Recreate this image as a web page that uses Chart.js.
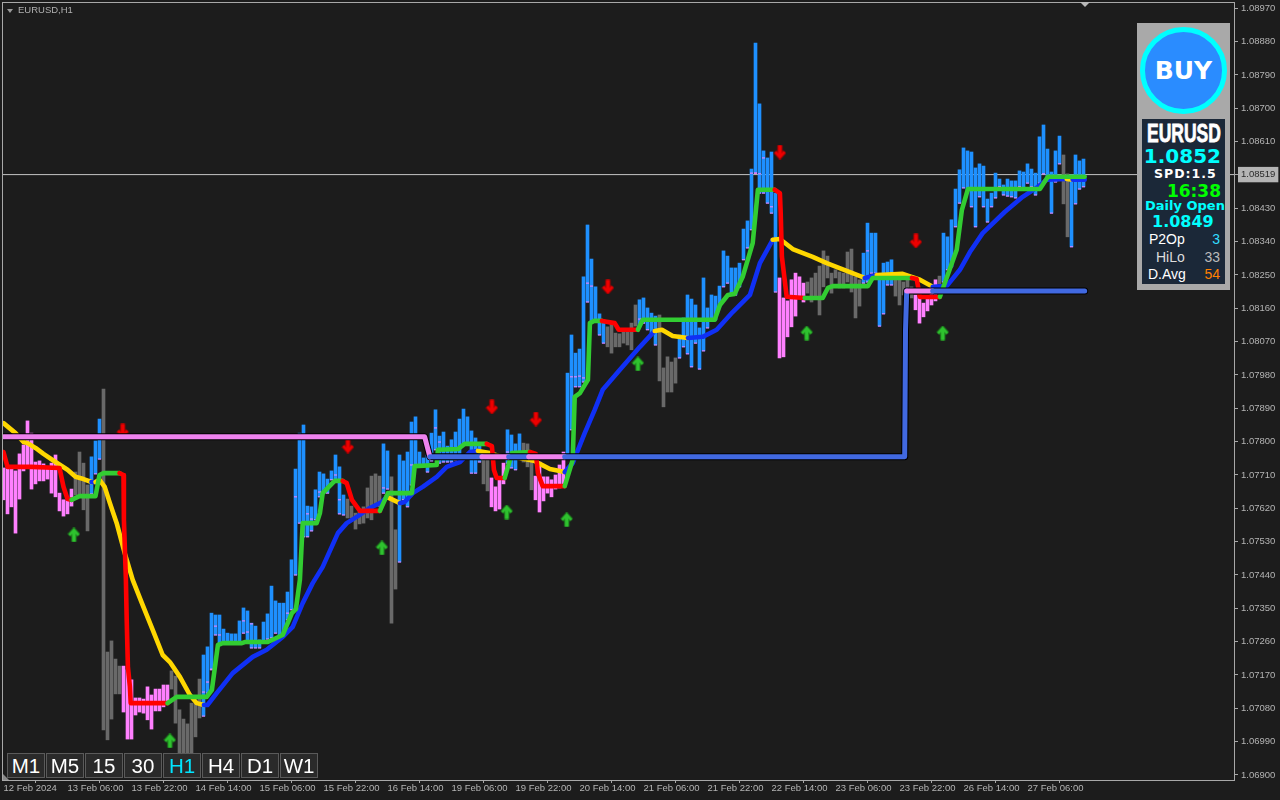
<!DOCTYPE html>
<html>
<head>
<meta charset="utf-8">
<title>EURUSD,H1</title>
<script src="https://cdn.jsdelivr.net/npm/chart.js@4.4.1/dist/chart.umd.js"></script>
<style>
    html, body { margin: 0; padding: 0; background: #1c1c1c; overflow: hidden; }
    #wrap { position: relative; width: 1280px; height: 800px; font-family: "Liberation Sans", Arial, sans-serif; }
    #wrap canvas { position: absolute; left: 0; top: 0; }
    .abs { position: absolute; white-space: nowrap; }
    #title { left: 18px; top: 4px; font-size: 9.5px; line-height: 12px; color: #b0b0b0; }
    .tri { position: absolute; width: 0; height: 0; }
    #panel { left: 1137px; top: 23px; width: 93px; height: 267px; background: #a9a9a9; }
    #circle { left: 1140px; top: 27px; width: 77px; height: 77px; border: 5px solid #00ffff; border-radius: 50%; background: #2a8cff;
              color: #fff; font-family: "DejaVu Sans", sans-serif; font-weight: bold; font-size: 25px; line-height: 77px; text-align: center; }
    #info { left: 1142px; top: 119px; width: 83px; height: 165px; background: #1b2838; }
    .bold { font-family: "DejaVu Sans", sans-serif; font-weight: bold; }
    .right { text-align: right; }
    .btn { position: absolute; top: 753px; width: 36px; height: 23px; background: #2a2a2a; border: 1px solid #5a5a5a; box-sizing: content-box;
           color: #fff; font-size: 20.5px; line-height: 23px; text-align: center; }
</style>
</head>
<body>
<div id="wrap">
    <canvas id="chart" width="1280" height="800"></canvas>

    <div class="tri" style="left:7px;top:9px;border-left:3px solid transparent;border-right:3px solid transparent;border-top:4px solid #9a9a9a;"></div>
    <div id="title" class="abs">EURUSD,H1</div>
    <div class="tri" style="left:1080px;top:2px;border-left:5px solid transparent;border-right:5px solid transparent;border-top:5px solid #b8b8b8;"></div>
    <div class="tri" style="left:3px;top:774px;border-left:0 solid transparent;border-right:6px solid transparent;border-bottom:6px solid #8a8a8a;"></div>

    <div id="panel" class="abs"></div>
    <div id="circle" class="abs">BUY</div>
    <div id="info" class="abs"></div>
    <div class="abs" style="right:59px;top:120px;color:#fff;font:bold 26.5px/27px 'Liberation Sans',sans-serif;-webkit-text-stroke:0.8px #fff;transform:scaleX(0.66);transform-origin:right center;">EURUSD</div>
    <div class="abs bold right" style="left:1142px;top:144px;width:79px;color:#00ffff;font-size:20px;line-height:24px;">1.0852</div>
    <div class="abs bold" style="left:1154px;top:166px;color:#fff;font-size:12.5px;line-height:16px;letter-spacing:1px;">SPD:1.5</div>
    <div class="abs bold right" style="left:1142px;top:181px;width:79px;color:#00ff00;font-size:17px;line-height:20px;">16:38</div>
    <div class="abs bold" style="left:1145px;top:198px;color:#00ffff;font-size:13px;line-height:16px;">Daily Open</div>
    <div class="abs bold" style="left:1152px;top:212px;color:#00ffff;font-size:16px;line-height:20px;">1.0849</div>
    <div class="abs" style="left:1149px;top:231px;color:#fff;font-size:14px;line-height:17px;">P2Op</div>
    <div class="abs right" style="left:1190px;top:231px;width:30px;color:#33ddff;font-size:14px;line-height:17px;">3</div>
    <div class="abs" style="left:1156px;top:249px;color:#ddd;font-size:14px;line-height:17px;">HiLo</div>
    <div class="abs right" style="left:1190px;top:249px;width:30px;color:#bbb;font-size:14px;line-height:17px;">33</div>
    <div class="abs" style="left:1148px;top:266px;color:#fff;font-size:14px;line-height:17px;">D.Avg</div>
    <div class="abs right" style="left:1190px;top:266px;width:30px;color:#ff8000;font-size:14px;line-height:17px;">54</div>

    <div id="buttons"></div>
</div>

<script>
// Bars, one per hour, index 0 = 12 Feb 2024 00:00
const barHigh = [
    1.07729,1.07729,1.07729,1.07721,1.07767,1.07791,1.07856,1.07823,1.07745,1.07748,1.07740,1.07729,1.07742,1.07764,1.07661,1.07643,
    1.07643,1.07672,1.07718,1.07772,1.07742,1.07683,1.07759,1.07802,1.07861,1.07942,1.07232,1.07262,1.07213,1.07194,1.07194,1.07184,
    1.07157,1.07108,1.07108,1.07105,1.07138,1.07116,1.07132,1.07132,1.07143,1.07143,1.07181,1.07167,1.07076,1.07051,1.07038,1.07094,
    1.07094,1.07159,1.07224,1.07246,1.07337,1.07332,1.07332,1.07294,1.07283,1.07281,1.07281,1.07316,1.07351,1.07343,1.07310,1.07302,
    1.07265,1.07313,1.07335,1.07410,1.07370,1.07364,1.07364,1.07394,1.07481,1.07726,1.07823,1.07845,1.07626,1.07624,1.07670,1.07718,
    1.07713,1.07699,1.07721,1.07764,1.07732,1.07656,1.07645,1.07626,1.07607,1.07610,1.07624,1.07675,1.07707,1.07713,1.07707,1.07794,
    1.07775,1.07705,1.07562,1.07764,1.07748,1.07772,1.07853,1.07867,1.07772,1.07756,1.07764,1.07823,1.07886,1.07815,1.07826,1.07788,
    1.07805,1.07826,1.07861,1.07888,1.07867,1.07829,1.07810,1.07791,1.07769,1.07764,1.07702,1.07678,1.07702,1.07742,1.07832,1.07818,
    1.07794,1.07821,1.07796,1.07794,1.07772,1.07707,1.07745,1.07705,1.07705,1.07697,1.07710,1.07737,1.07772,1.07985,1.08088,1.08039,
    1.08050,1.08245,1.08385,1.08293,1.08218,1.08145,1.08129,1.08110,1.08120,1.08093,1.08091,1.08099,1.08099,1.08120,1.08169,1.08183,
    1.08188,1.08161,1.08147,1.08139,1.08142,1.07999,1.08029,1.08015,1.08026,1.08088,1.08134,1.08196,1.08185,1.08169,1.08107,1.08242,
    1.08161,1.08196,1.08193,1.08220,1.08315,1.08301,1.08269,1.08269,1.08282,1.08374,1.08396,1.08536,1.08876,1.08712,1.08585,1.08566,
    1.08582,1.08471,1.08242,1.08188,1.08180,1.08237,1.08255,1.08245,1.08228,1.08231,1.08242,1.08255,1.08274,1.08315,1.08301,1.08255,
    1.08264,1.08258,1.08255,1.08312,1.08320,1.08245,1.08237,1.08309,1.08390,1.08363,1.08363,1.08242,1.08282,1.08285,1.08291,1.08242,
    1.08242,1.08231,1.08237,1.08218,1.08196,1.08191,1.08174,1.08188,1.08201,1.08237,1.08247,1.08363,1.08353,1.08399,1.08482,1.08534,
    1.08593,1.08585,1.08582,1.08539,1.08550,1.08544,1.08455,1.08471,1.08525,1.08509,1.08493,1.08509,1.08504,1.08504,1.08531,1.08528,
    1.08550,1.08536,1.08525,1.08623,1.08655,1.08590,1.08528,1.08585,1.08625,1.08574,1.08523,1.08520,1.08574,1.08558,1.08563
];
const barLow = [
    1.07643,1.07605,1.07624,1.07553,1.07645,1.07721,1.07732,1.07672,1.07686,1.07694,1.07694,1.07699,1.07661,1.07651,1.07613,1.07599,
    1.07605,1.07626,1.07656,1.07656,1.07616,1.07559,1.07659,1.07713,1.07753,1.07022,1.06995,1.07051,1.07119,1.07119,1.07070,1.06997,
    1.06997,1.07062,1.07070,1.07067,1.07049,1.07024,1.07073,1.07073,1.07084,1.07094,1.07132,1.07040,1.06954,1.06954,1.06949,1.06959,
    1.07003,1.07054,1.07059,1.07121,1.07184,1.07278,1.07256,1.07256,1.07256,1.07256,1.07256,1.07256,1.07283,1.07256,1.07243,1.07243,
    1.07243,1.07256,1.07267,1.07270,1.07283,1.07273,1.07273,1.07319,1.07346,1.07440,1.07580,1.07543,1.07543,1.07559,1.07589,1.07651,
    1.07661,1.07661,1.07697,1.07697,1.07605,1.07602,1.07594,1.07594,1.07564,1.07578,1.07580,1.07594,1.07589,1.07624,1.07624,1.07661,
    1.07672,1.07310,1.07402,1.07475,1.07643,1.07624,1.07683,1.07737,1.07737,1.07737,1.07718,1.07748,1.07778,1.07742,1.07745,1.07745,
    1.07745,1.07751,1.07764,1.07791,1.07791,1.07715,1.07715,1.07745,1.07686,1.07667,1.07624,1.07613,1.07618,1.07686,1.07742,1.07729,
    1.07724,1.07764,1.07745,1.07732,1.07670,1.07643,1.07610,1.07640,1.07661,1.07651,1.07672,1.07675,1.07683,1.07759,1.07832,1.07948,
    1.07948,1.07961,1.08177,1.08123,1.08123,1.08088,1.08066,1.08056,1.08039,1.08056,1.08056,1.08066,1.08061,1.08048,1.08112,1.08110,
    1.08120,1.08102,1.08093,1.08061,1.07964,1.07894,1.07934,1.07934,1.07958,1.08026,1.08056,1.08037,1.08002,1.08066,1.07996,1.08045,
    1.08107,1.08129,1.08129,1.08164,1.08218,1.08228,1.08201,1.08196,1.08218,1.08291,1.08323,1.08372,1.08525,1.08471,1.08471,1.08444,
    1.08417,1.08204,1.08026,1.08029,1.08083,1.08110,1.08139,1.08191,1.08177,1.08201,1.08177,1.08188,1.08142,1.08218,1.08242,1.08201,
    1.08242,1.08215,1.08215,1.08231,1.08204,1.08134,1.08166,1.08228,1.08231,1.08255,1.08255,1.08112,1.08145,1.08223,1.08223,1.08193,
    1.08169,1.08196,1.08215,1.08188,1.08156,1.08120,1.08137,1.08153,1.08169,1.08180,1.08226,1.08231,1.08264,1.08272,1.08380,1.08444,
    1.08485,1.08480,1.08434,1.08380,1.08461,1.08434,1.08393,1.08434,1.08458,1.08488,1.08466,1.08463,1.08461,1.08458,1.08488,1.08485,
    1.08498,1.08488,1.08466,1.08498,1.08523,1.08507,1.08417,1.08501,1.08550,1.08442,1.08353,1.08326,1.08442,1.08482,1.08488
];
// Bar colour state as runs: last bar index of each run and its state
const trendRunEnd = [17,21,24,29,41,49,85,94,96,98,119,121,125,129,132,140,150,158,163,168,193,200,214,222,227,233,234,264,266,270];
const trendRunState = ['down','flat','up','flat','down','flat','up','flat','up','flat','up','flat','down','up','flat','down','up','flat','up','flat','up','down','flat','up','flat','down','flat','up','flat','up'];

// Small pink marks inside some of the up bars
const markBars = [50,51,52,53,54,60,61,62,71,73,76,77,79,83,84,95,102,108,109,126,142,143,144,145,146,147,159,187,188,189,190,192,216];
const markVals = [1.07124,1.07151,1.07186,1.07302,1.07278,1.07316,1.07286,1.07308,1.07337,1.07651,1.07605,1.07591,1.07664,1.07710,1.07643,1.07675,1.07737,1.07837,1.07799,1.07772,1.07975,1.07975,1.07977,1.07972,1.08228,1.08220,1.08131,1.08525,1.08525,1.08523,1.08566,1.08434,1.08315];

// Slow average: position in bars, price, colour of the stretch that starts there
const slowBars = [0,3,5,6,8,10,13,16,18,20,22,23,24,25.3,26.6,28.3,30.3,32.3,34.6,37.3,39.8,41.6,44.1,46.6,48.3,50.1,51,53.3,57.3,62.3,65.8,69.8,72.3,74.8,77.3,79.8,83.6,85.8,88.6,91.6,94.6,95.8,99.1,100.3,102.3,104.8,108.3,110.8,114.1,116.6,118.6,121.6,124.1,129.1,132.8,134.1,136.6,140.3,142.3,145.3,147.8,149.8,154.1,159.1,162.8,164.6,167.3,171.1,174.8,178.3,182.3,186.6,189.1,192.3,194.1,197.3,202.3,205.8,210.8,215.3,218.3,224.8,229.1,232.3,235.8,239.1,241.6,244.8,250.3,254.8,258.6,260.8,265.8,267.3,270.3];
const slowVals = [1.07850,1.07823,1.07799,1.07796,1.07783,1.07767,1.07745,1.07724,1.07705,1.07699,1.07691,1.07691,1.07697,1.07678,1.07634,1.07580,1.07499,1.07427,1.07364,1.07292,1.07224,1.07205,1.07165,1.07116,1.07094,1.07089,1.07089,1.07121,1.07175,1.07219,1.07238,1.07273,1.07300,1.07364,1.07418,1.07462,1.07553,1.07580,1.07599,1.07621,1.07637,1.07651,1.07634,1.07637,1.07661,1.07678,1.07705,1.07732,1.07745,1.07772,1.07775,1.07769,1.07761,1.07756,1.07748,1.07740,1.07726,1.07718,1.07742,1.07823,1.07886,1.07940,1.07994,1.08056,1.08099,1.08102,1.08085,1.08080,1.08083,1.08102,1.08150,1.08196,1.08282,1.08345,1.08347,1.08320,1.08299,1.08282,1.08261,1.08242,1.08250,1.08253,1.08237,1.08218,1.08220,1.08264,1.08312,1.08363,1.08420,1.08461,1.08488,1.08507,1.08509,1.08507,1.08507];
const slowTrend = ['y','y','y','y','y','y','y','y','y','y','b','y','y','y','y','y','y','y','y','y','y','y','y','y','y','b','b','b','b','b','b','b','b','b','b','b','b','b','b','b','b','y','b','b','b','b','b','b','b','b','y','y','y','y','y','y','y','b','b','b','b','b','b','b','y','y','y','b','b','b','b','b','b','y','y','y','y','y','y','b','y','y','y','b','b','b','b','b','b','b','b','b','y','b','b'];

// Fast average: same layout as the slow one
const fastBars = [0,1,7,14,15,16,17,19,23,24,25,29,30,30.1,30.6,30.8,31.1,31.6,31.8,41,43.3,50.8,52.1,53.6,54.8,59.6,60.3,66.1,69.8,72.1,73.1,74.1,74.8,78.3,79.1,79.8,82.8,84.8,85.8,87.1,89.1,94.1,96.1,102.1,102.8,108.3,108.6,113.6,115.3,120.8,122.1,122.6,123.3,125.3,127.1,131.6,133.1,133.6,134.8,140.3,142.3,142.8,144.1,146.1,146.6,147.6,149.6,152.8,153.8,158.6,159.8,177.8,179.1,181.1,182.8,184.8,187.3,188.6,192.8,194.1,194.3,194.6,195.8,200.3,204.8,206.1,207.3,216.1,217.3,227.1,228.3,229.1,234.1,238.3,239.6,241.1,259.1,261.1,270.3];
const fastVals = [1.07772,1.07732,1.07732,1.07729,1.07678,1.07645,1.07643,1.07653,1.07653,1.07710,1.07715,1.07715,1.07710,1.07589,1.07427,1.07319,1.07192,1.07138,1.07094,1.07094,1.07111,1.07111,1.07130,1.07251,1.07256,1.07256,1.07259,1.07259,1.07278,1.07337,1.07348,1.07427,1.07580,1.07580,1.07607,1.07661,1.07694,1.07694,1.07688,1.07643,1.07613,1.07613,1.07661,1.07661,1.07734,1.07737,1.07778,1.07780,1.07794,1.07794,1.07788,1.07724,1.07702,1.07702,1.07769,1.07772,1.07767,1.07715,1.07680,1.07680,1.07751,1.07921,1.07931,1.07967,1.08120,1.08126,1.08126,1.08120,1.08102,1.08102,1.08129,1.08129,1.08169,1.08196,1.08199,1.08245,1.08336,1.08480,1.08480,1.08471,1.08417,1.08299,1.08191,1.08188,1.08188,1.08215,1.08220,1.08220,1.08242,1.08242,1.08239,1.08191,1.08191,1.08318,1.08426,1.08482,1.08482,1.08515,1.08515];
const fastTrend = ['r','r','r','r','r','r','g','g','g','g','g','r','r','r','r','r','r','r','r','g','g','g','g','g','g','g','g','g','g','g','g','g','g','g','g','g','g','r','r','r','r','g','g','g','g','g','g','g','g','r','r','r','r','g','g','r','r','r','r','g','g','g','g','g','g','g','r','r','r','g','g','g','g','g','g','g','g','g','r','r','r','r','r','g','g','g','g','g','g','r','r','r','g','g','g','g','g','g','g'];

// Heavy support/resistance level
const levelBars = [0,105.3,106.6,119.6,126.3,131.3,140.3,225.3,225.5,225.8,232.3,270.3];
const levelVals = [1.07813,1.07813,1.07759,1.07759,1.07759,1.07759,1.07759,1.07759,1.08100,1.08207,1.08207,1.08207];
const levelTrend = ['p','p','b','p','b','p','b','b','b','p','b','b'];

// Signal arrows
const upArrowBars = [17.6,41.6,94.6,125.8,140.8,158.6,200.8,234.8];
const upArrowVals = [1.07548,1.06992,1.07513,1.07610,1.07589,1.08010,1.08093,1.08093];
const downArrowBars = [29.8,86.1,122.1,133.1,151.1,194.1,228.1];
const downArrowVals = [1.07829,1.07788,1.07894,1.07861,1.08218,1.08582,1.08342];

// Axis labels
const timeTickBars = [0,16,32,48,64,80,96,112,128,144,160,176,192,208,224,240,256];
const timeTickLabels = ['12 Feb 2024','13 Feb 06:00','13 Feb 22:00','14 Feb 14:00','15 Feb 06:00','15 Feb 22:00','16 Feb 14:00','19 Feb 06:00','19 Feb 22:00','20 Feb 14:00','21 Feb 06:00','21 Feb 22:00','22 Feb 14:00','23 Feb 06:00','23 Feb 22:00','26 Feb 14:00','27 Feb 06:00'];
const priceTicks = [1.08970,1.08880,1.08790,1.08700,1.08610,1.08430,1.08340,1.08250,1.08160,1.08070,1.07980,1.07890,1.07800,1.07710,1.07620,1.07530,1.07440,1.07350,1.07260,1.07170,1.07080,1.06990,1.06900];
const lastPrice = 1.08521;
const lastPriceLabel = '1.08519';
const timeframes = ['M1','M5','15','30','H1','H4','D1','W1'];

const barColors = { up: '#1e90ff', down: '#ff80ff', flat: '#696969' };
const slowColors = { y: '#ffd700', b: '#1030f5' };
const fastColors = { r: '#ff0000', g: '#32cd32' };
const levelColors = { p: '#ee82ee', b: '#4169e1' };

/**
 * Expands the colour runs to one colour per bar
 */
function buildBarColors() {
    const colors = [];
    let start = 0;
    trendRunEnd.forEach((end, i) => {
        for (let b = start; b <= end; b++) colors.push(barColors[trendRunState[i]]);
        start = end + 1;
    });
    return colors;
}

/**
 * Draws a small arrow sprite used as point style
 */
function makeArrow(color, edge, down) {
    const c = document.createElement('canvas');
    c.width = 13;
    c.height = 15;
    const g = c.getContext('2d');
    if (down) {
        g.translate(0, 15);
        g.scale(1, -1);
    }
    g.lineCap = 'butt';
    g.lineJoin = 'miter';
    // darker rim first, then the arrow itself
    [[edge, 2], [color, 0]].forEach(([stroke, extra]) => {
        g.strokeStyle = stroke;
        g.lineWidth = 3.4 + extra;
        g.beginPath();
        g.moveTo(6.5, 14.5);
        g.lineTo(6.5, 3);
        g.stroke();
        g.lineWidth = 2.4 + extra;
        g.beginPath();
        g.moveTo(1.8, 7.8);
        g.lineTo(6.5, 2.6);
        g.lineTo(11.2, 7.8);
        g.stroke();
    });
    return c;
}

function points(xs, ys) {
    return xs.map((x, i) => ({ x: x, y: ys[i] }));
}

function lineDataset(xs, ys, states, colors, width, order) {
    return {
        type: 'line',
        data: points(xs, ys),
        borderWidth: width,
        borderColor: colors[states[0]],
        borderCapStyle: 'round',
        borderJoinStyle: 'round',
        pointRadius: 0,
        tension: 0,
        order: order,
        segment: { borderColor: ctx => colors[states[ctx.p0DataIndex]] }
    };
}

// Scale label overhang would push the plot area in, the frame has to stay at the window edge
function dropAxisPadding(axis) {
    axis.paddingLeft = 0;
    axis.paddingRight = 0;
    axis.paddingTop = 0;
    axis.paddingBottom = 0;
}

// Chart frame, only the outline of the plot area
const framePlugin = {
    id: 'frame',
    afterDraw(chart) {
        const a = chart.chartArea;
        const g = chart.ctx;
        g.save();
        g.strokeStyle = '#a8a8a8';
        g.lineWidth = 1;
        g.strokeRect(Math.round(a.left) + 0.5, Math.round(a.top) + 0.5, Math.round(a.right - a.left), Math.round(a.bottom - a.top));
        g.restore();
    }
};

// Timeframe buttons
const btnBox = document.getElementById('buttons');
timeframes.forEach((t, i) => {
    const b = document.createElement('div');
    b.className = 'btn';
    b.style.left = (7 + i * 39) + 'px';
    if (t === 'H1') b.style.color = '#00e5ff';
    b.textContent = t;
    btnBox.appendChild(b);
});

const barColorList = buildBarColors();
const bars = barHigh.map((h, i) => ({ x: i, y: [barLow[i], h] }));
const upMarksLow = barLow.map((v, i) => ({ x: i, y: v })).filter((p, i) => barColorList[i] === barColors.up);

new Chart(document.getElementById('chart').getContext('2d'), {
    type: 'bar',
    data: {
        datasets: [
            {
                type: 'line',
                data: [{ x: -0.375, y: lastPrice }, { x: 307.625, y: lastPrice }],
                borderColor: '#c4c4c4',
                borderWidth: 1,
                pointRadius: 0,
                order: 60
            },
            {
                type: 'bar',
                data: bars,
                backgroundColor: barColorList,
                borderWidth: 0,
                barThickness: 3,
                order: 50
            },
            {
                type: 'scatter',
                data: upMarksLow.concat(points(markBars, markVals)),
                pointStyle: 'line',
                pointRadius: 1.5,
                borderWidth: 1,
                borderColor: '#ff80ff',
                backgroundColor: '#ff80ff',
                order: 45
            },
            {
                type: 'scatter',
                data: points(upArrowBars, upArrowVals),
                pointStyle: makeArrow('#2fc22f', '#1c7a1c', false),
                pointRadius: 6,
                order: 42
            },
            {
                type: 'scatter',
                data: points(downArrowBars, downArrowVals),
                pointStyle: makeArrow('#ee0000', '#a00000', true),
                pointRadius: 6,
                order: 42
            },
            lineDataset(slowBars, slowVals, slowTrend, slowColors, 4.6, 30),
            lineDataset(fastBars, fastVals, fastTrend, fastColors, 4.6, 20),
            {
                type: 'line',
                data: points(levelBars, levelVals),
                borderColor: '#000000',
                borderWidth: 7,
                borderJoinStyle: 'round',
                borderCapStyle: 'round',
                pointRadius: 0,
                tension: 0,
                order: 11
            },
            lineDataset(levelBars, levelVals, levelTrend, levelColors, 5, 10)
        ]
    },
    options: {
        responsive: false,
        animation: false,
        layout: { autoPadding: false, padding: { left: 2, top: 2, right: 0, bottom: 0 } },
        plugins: { legend: { display: false }, tooltip: { enabled: false } },
        scales: {
            x: {
                type: 'linear',
                offset: false,
                min: -0.375,
                max: 307.625,
                border: { color: '#a8a8a8' },
                grid: { drawOnChartArea: false, color: '#a8a8a8', tickLength: 3 },
                afterBuildTicks: axis => { axis.ticks = timeTickBars.map(v => ({ value: v })); },
                afterFit: axis => { axis.height = 20; dropAxisPadding(axis); },
                ticks: {
                    autoSkip: false,
                    maxRotation: 0,
                    align: 'start',
                    padding: 0,
                    color: '#b4b4b4',
                    font: { family: 'Liberation Sans', size: 9.5 },
                    callback: (value, index) => timeTickLabels[index]
                }
            },
            y: {
                position: 'right',
                min: 1.068865,
                max: 1.08987,
                border: { color: '#a8a8a8' },
                grid: { drawOnChartArea: false, color: '#a8a8a8', tickLength: 4 },
                afterBuildTicks: axis => { axis.ticks = priceTicks.concat(lastPrice).map(v => ({ value: v })); },
                afterFit: axis => { axis.width = 46; dropAxisPadding(axis); },
                ticks: {
                    autoSkip: false,
                    padding: 3,
                    color: ctx => (ctx.tick && ctx.tick.value === lastPrice ? '#2a2a2a' : '#b4b4b4'),
                    font: { family: 'Liberation Sans', size: 9.5 },
                    showLabelBackdrop: ctx => !!(ctx.tick && ctx.tick.value === lastPrice),
                    backdropColor: '#b4b4b4',
                    backdropPadding: { x: 3, y: 2 },
                    callback: value => (value === lastPrice ? lastPriceLabel : value.toFixed(5))
                }
            }
        }
    },
    plugins: [framePlugin]
});
</script>
</body>
</html>
